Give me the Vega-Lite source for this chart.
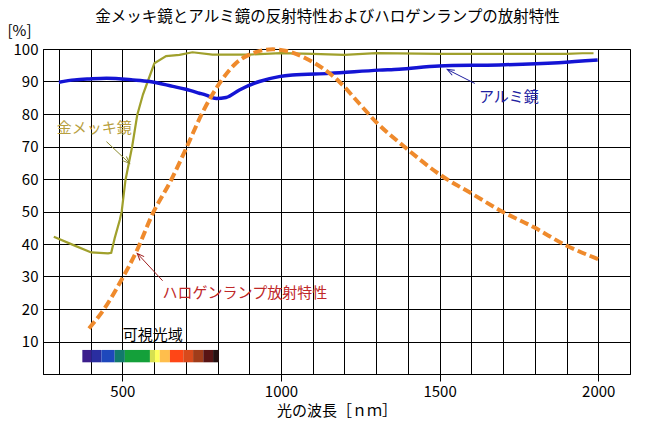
{
  "$schema": "https://vega.github.io/schema/vega-lite/v6.json",
  "width": 587,
  "height": 325,
  "autosize": {"type": "none"},
  "padding": {"left": 43, "top": 49, "right": 24, "bottom": 64},
  "background": "white",
  "title": {"text": "金メッキ鏡とアルミ鏡の反射特性およびハロゲンランプの放射特性", "fontSize": 15.5, "fontWeight": "normal", "color": "black", "anchor": "middle", "frame": "group", "offset": -2, "dx": -9},
  "config": {
    "font": "Noto Sans CJK JP",
    "view": {"stroke": "black", "strokeWidth": 1},
    "axis": {"gridColor": "black", "gridOpacity": 1, "gridWidth": 1, "domainColor": "black", "labelColor": "black", "titleColor": "black", "labelFontSize": 15, "titleFontSize": 15, "titleFontWeight": "normal", "labelFont": "Noto Sans CJK JP", "titleFont": "Noto Sans CJK JP", "labelOverlap": false}
  },
  "datasets": {
    "gold": [
      {"wl": 284, "v": 42.2}, {"wl": 350, "v": 39.5}, {"wl": 402, "v": 37.4}, {"wl": 455, "v": 37.1}, {"wl": 465, "v": 37.3},
      {"wl": 476, "v": 41.8}, {"wl": 492, "v": 47.4}, {"wl": 498, "v": 50.0}, {"wl": 510, "v": 59.7}, {"wl": 531, "v": 70.0},
      {"wl": 547, "v": 79.7}, {"wl": 565, "v": 86.0}, {"wl": 580, "v": 90.0}, {"wl": 601, "v": 95.6}, {"wl": 638, "v": 97.8},
      {"wl": 680, "v": 98.2}, {"wl": 721, "v": 99.0}, {"wl": 784, "v": 98.3}, {"wl": 900, "v": 98.3}, {"wl": 1000, "v": 98.7},
      {"wl": 1100, "v": 98.5}, {"wl": 1200, "v": 98.2}, {"wl": 1300, "v": 98.7}, {"wl": 1500, "v": 98.5}, {"wl": 1700, "v": 98.5},
      {"wl": 1900, "v": 98.5}, {"wl": 1950, "v": 98.7}, {"wl": 1985, "v": 98.7}
    ],
    "alu": [
      {"wl": 300, "v": 89.8}, {"wl": 350, "v": 90.5}, {"wl": 397, "v": 90.8}, {"wl": 450, "v": 91.0}, {"wl": 533, "v": 90.5},
      {"wl": 586, "v": 90.0}, {"wl": 659, "v": 88.5}, {"wl": 700, "v": 87.6}, {"wl": 743, "v": 86.4}, {"wl": 764, "v": 85.8},
      {"wl": 796, "v": 84.8}, {"wl": 827, "v": 85.1}, {"wl": 869, "v": 87.4}, {"wl": 932, "v": 90.0}, {"wl": 994, "v": 91.5},
      {"wl": 1036, "v": 92.0}, {"wl": 1152, "v": 92.5}, {"wl": 1309, "v": 93.5}, {"wl": 1372, "v": 93.8}, {"wl": 1498, "v": 94.8},
      {"wl": 1687, "v": 95.1}, {"wl": 1875, "v": 95.8}, {"wl": 1998, "v": 96.6}
    ],
    "hal": [
      {"wl": 395, "v": 14.0}, {"wl": 444, "v": 20.2}, {"wl": 497, "v": 28.9}, {"wl": 544, "v": 37.6}, {"wl": 596, "v": 49.4},
      {"wl": 654, "v": 59.7}, {"wl": 701, "v": 69.4}, {"wl": 754, "v": 80.7}, {"wl": 806, "v": 89.4}, {"wl": 858, "v": 95.6},
      {"wl": 911, "v": 98.7}, {"wl": 974, "v": 99.9}, {"wl": 1026, "v": 99.2}, {"wl": 1079, "v": 97.1}, {"wl": 1131, "v": 94.1},
      {"wl": 1183, "v": 90.0}, {"wl": 1246, "v": 83.3}, {"wl": 1300, "v": 77.5}, {"wl": 1388, "v": 70.0}, {"wl": 1503, "v": 61.2},
      {"wl": 1603, "v": 55.4}, {"wl": 1697, "v": 50.0}, {"wl": 1796, "v": 45.2}, {"wl": 1896, "v": 39.7}, {"wl": 2001, "v": 35.3}
    ],
    "spectrum": [
      {"seg": "s01", "wl": 374, "wl2": 402, "v": 3.6, "v2": 7.4},
      {"seg": "s02", "wl": 402, "wl2": 434, "v": 3.6, "v2": 7.4},
      {"seg": "s03", "wl": 434, "wl2": 476, "v": 3.6, "v2": 7.4},
      {"seg": "s04", "wl": 476, "wl2": 508, "v": 3.6, "v2": 7.4},
      {"seg": "s05", "wl": 508, "wl2": 587, "v": 3.6, "v2": 7.4},
      {"seg": "s06", "wl": 587, "wl2": 603, "v": 3.6, "v2": 7.4},
      {"seg": "s07", "wl": 603, "wl2": 618, "v": 3.6, "v2": 7.4},
      {"seg": "s08", "wl": 618, "wl2": 650, "v": 3.6, "v2": 7.4},
      {"seg": "s09", "wl": 650, "wl2": 692, "v": 3.6, "v2": 7.4},
      {"seg": "s10", "wl": 692, "wl2": 723, "v": 3.6, "v2": 7.4},
      {"seg": "s11", "wl": 723, "wl2": 755, "v": 3.6, "v2": 7.4},
      {"seg": "s12", "wl": 755, "wl2": 786, "v": 3.6, "v2": 7.4},
      {"seg": "s13", "wl": 786, "wl2": 804, "v": 3.6, "v2": 7.4}
    ],
    "arrows": [
      {"id": "gold", "wl": 450, "v": 71.5, "wl2": 523, "v2": 64.8},
      {"id": "alu", "wl": 1611, "v": 89.4, "wl2": 1524, "v2": 93.7},
      {"id": "hal", "wl": 627, "v": 28.7, "wl2": 547, "v2": 37.1}
    ],
    "labels": [
      {"id": "gold", "text": "金メッキ鏡", "wl": 293, "v": 75.7},
      {"id": "alu", "text": "アルミ鏡", "wl": 1624, "v": 85.3},
      {"id": "hal", "text": "ハロゲンランプ放射特性", "wl": 627, "v": 24.8},
      {"id": "vis", "text": "可視光域", "wl": 596, "v": 12.0}
    ]
  },
  "layer": [
    {
      "data": {"name": "gold"},
      "mark": {"type": "line", "color": "#a0a02c", "strokeWidth": 2.2, "interpolate": "linear"},
      "encoding": {
        "x": {"field": "wl", "type": "quantitative", "scale": {"domain": [250, 2100], "nice": false, "zero": false},
          "axis": {"title": "光の波長［ｎｍ］", "values": [300, 400, 500, 600, 700, 800, 900, 1000, 1100, 1200, 1300, 1400, 1500, 1600, 1700, 1800, 1900, 2000],
            "tickCount": 100, "format": "d", "labelExpr": "datum.value % 500 === 0 ? datum.label : ''",
            "tickSize": 7, "tickColor": "black", "tickOpacity": {"condition": {"test": "datum.value % 500 === 0", "value": 1}, "value": 0},
            "labelPadding": 3, "titlePadding": 4, "grid": true}},
        "y": {"field": "v", "type": "quantitative", "scale": {"domain": [0, 100], "nice": false},
          "axis": {"title": "[%]", "values": [0, 10, 20, 30, 40, 50, 60, 70, 80, 90, 100], "tickCount": 100, "labelExpr": "datum.value === 0 ? '' : datum.label",
            "ticks": false, "labelPadding": 5, "grid": true, "titleAngle": 0, "titleAlign": "left", "titleBaseline": "bottom", "titleX": -36, "titleY": -11, "titleFontSize": 15}}
      }
    },
    {
      "data": {"name": "alu"},
      "mark": {"type": "line", "color": "#1414d4", "strokeWidth": 3.5, "interpolate": "monotone"},
      "encoding": {"x": {"field": "wl", "type": "quantitative"}, "y": {"field": "v", "type": "quantitative"}}
    },
    {
      "data": {"name": "hal"},
      "mark": {"type": "line", "color": "#ef8a2c", "strokeWidth": 4, "strokeDash": [9, 4], "interpolate": "monotone"},
      "encoding": {"x": {"field": "wl", "type": "quantitative"}, "y": {"field": "v", "type": "quantitative"}}
    },
    {
      "data": {"name": "spectrum"},
      "mark": {"type": "rect"},
      "encoding": {
        "x": {"field": "wl", "type": "quantitative"}, "x2": {"field": "wl2"},
        "y": {"field": "v", "type": "quantitative"}, "y2": {"field": "v2"},
        "color": {"field": "seg", "type": "nominal", "legend": null,
          "scale": {"domain": ["s01", "s02", "s03", "s04", "s05", "s06", "s07", "s08", "s09", "s10", "s11", "s12", "s13"],
            "range": ["#3c1e8c", "#2a2ea0", "#1e48bc", "#127a6c", "#14a03a", "#d6e050", "#ffff5c", "#ffbe4c", "#ff4616", "#d84a1c", "#a03c1a", "#581414", "#261212"]}}
      }
    },
    {
      "data": {"name": "arrows"},
      "transform": [{"filter": "datum.id === 'gold'"}],
      "layer": [
        {"mark": {"type": "rule", "color": "#8c8c30", "strokeWidth": 1},
          "encoding": {"x": {"field": "wl", "type": "quantitative"}, "x2": {"field": "wl2"}, "y": {"field": "v", "type": "quantitative"}, "y2": {"field": "v2"}}},
        {"mark": {"type": "point", "shape": "M -0.4 1 L 0 0 L 0.4 1", "filled": false, "color": "#8c8c30", "strokeWidth": 1, "size": 200, "angle": 133, "opacity": 1},
          "encoding": {"x": {"field": "wl2", "type": "quantitative"}, "y": {"field": "v2", "type": "quantitative"}}}
      ]
    },
    {
      "data": {"name": "arrows"},
      "transform": [{"filter": "datum.id === 'alu'"}],
      "layer": [
        {"mark": {"type": "rule", "color": "#2020a0", "strokeWidth": 1},
          "encoding": {"x": {"field": "wl", "type": "quantitative"}, "x2": {"field": "wl2"}, "y": {"field": "v", "type": "quantitative"}, "y2": {"field": "v2"}}},
        {"mark": {"type": "point", "shape": "M -0.4 1 L 0 0 L 0.4 1", "filled": false, "color": "#2020a0", "strokeWidth": 1, "size": 200, "angle": 297, "opacity": 1},
          "encoding": {"x": {"field": "wl2", "type": "quantitative"}, "y": {"field": "v2", "type": "quantitative"}}}
      ]
    },
    {
      "data": {"name": "arrows"},
      "transform": [{"filter": "datum.id === 'hal'"}],
      "layer": [
        {"mark": {"type": "rule", "color": "#a02020", "strokeWidth": 1},
          "encoding": {"x": {"field": "wl", "type": "quantitative"}, "x2": {"field": "wl2"}, "y": {"field": "v", "type": "quantitative"}, "y2": {"field": "v2"}}},
        {"mark": {"type": "point", "shape": "M -0.4 1 L 0 0 L 0.4 1", "filled": false, "color": "#a02020", "strokeWidth": 1, "size": 200, "angle": 317, "opacity": 1},
          "encoding": {"x": {"field": "wl2", "type": "quantitative"}, "y": {"field": "v2", "type": "quantitative"}}}
      ]
    },
    {
      "data": {"name": "labels"},
      "transform": [{"filter": "datum.id === 'gold'"}],
      "mark": {"type": "text", "align": "left", "baseline": "middle", "fontSize": 15, "color": "#b8a040"},
      "encoding": {"x": {"field": "wl", "type": "quantitative"}, "y": {"field": "v", "type": "quantitative"}, "text": {"field": "text"}}
    },
    {
      "data": {"name": "labels"},
      "transform": [{"filter": "datum.id === 'alu'"}],
      "mark": {"type": "text", "align": "left", "baseline": "middle", "fontSize": 15, "color": "#2020a0"},
      "encoding": {"x": {"field": "wl", "type": "quantitative"}, "y": {"field": "v", "type": "quantitative"}, "text": {"field": "text"}}
    },
    {
      "data": {"name": "labels"},
      "transform": [{"filter": "datum.id === 'hal'"}],
      "mark": {"type": "text", "align": "left", "baseline": "middle", "fontSize": 15, "color": "#c02828"},
      "encoding": {"x": {"field": "wl", "type": "quantitative"}, "y": {"field": "v", "type": "quantitative"}, "text": {"field": "text"}}
    },
    {
      "data": {"name": "labels"},
      "transform": [{"filter": "datum.id === 'vis'"}],
      "mark": {"type": "text", "align": "center", "baseline": "middle", "fontSize": 15, "color": "black"},
      "encoding": {"x": {"field": "wl", "type": "quantitative"}, "y": {"field": "v", "type": "quantitative"}, "text": {"field": "text"}}
    }
  ]
}
